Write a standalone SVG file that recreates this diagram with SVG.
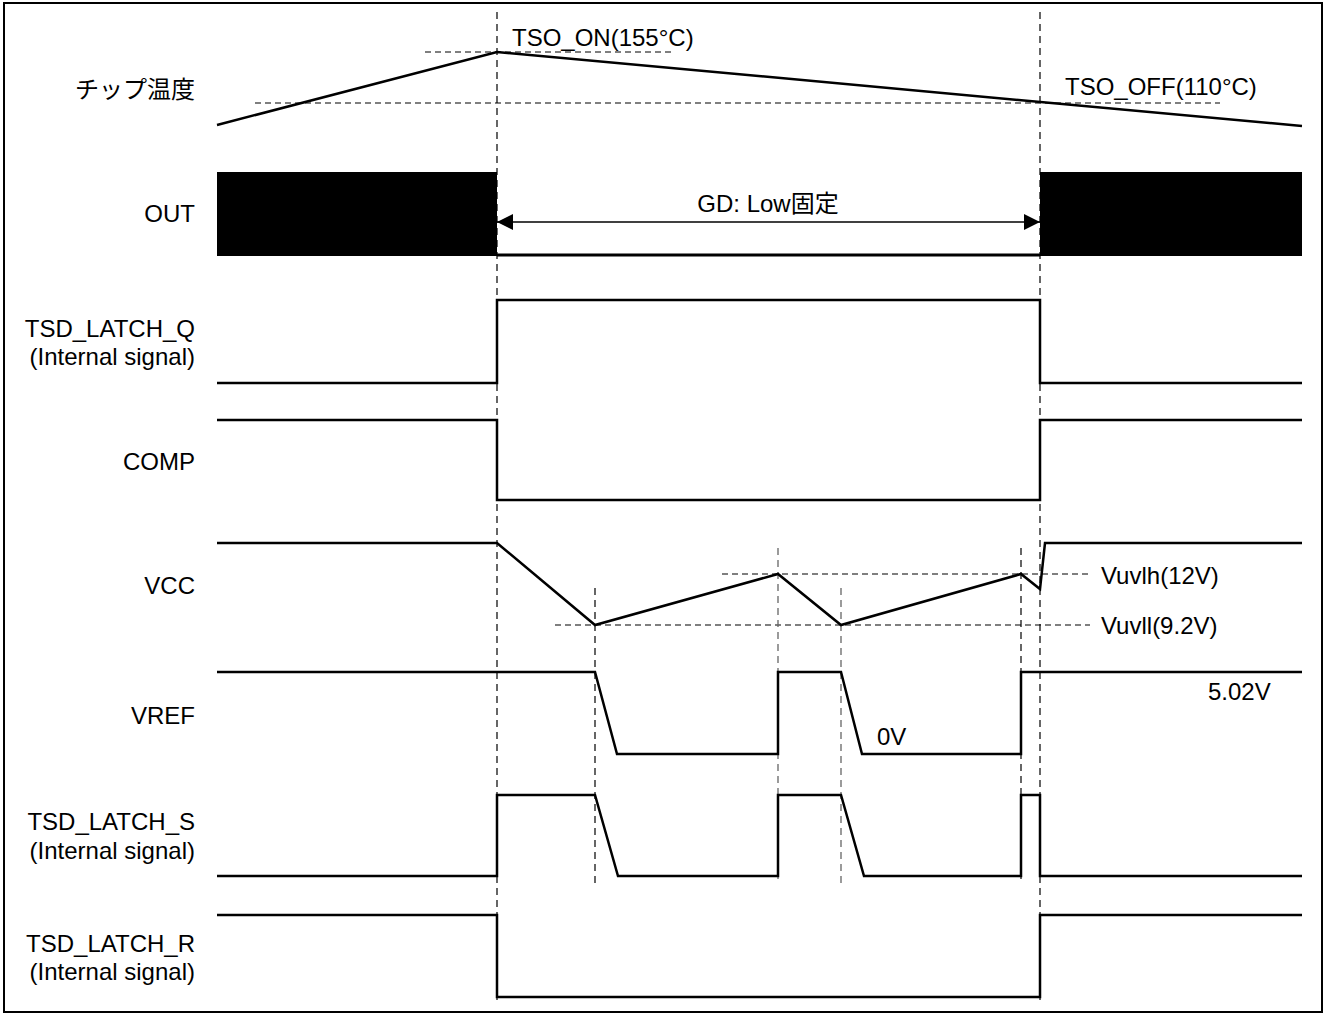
<svg xmlns="http://www.w3.org/2000/svg" width="1325" height="1014" viewBox="0 0 1325 1014">
<style>
text{font-family:"Liberation Sans",Arial,"Noto Sans CJK JP",sans-serif;font-size:24px;fill:#000}
.lbl{text-anchor:end}
.w{fill:none;stroke:#000;stroke-width:2.5;stroke-linejoin:miter}
.d{fill:none;stroke:#000;stroke-width:1.1;stroke-dasharray:6 4}
.dv{fill:none;stroke:#000;stroke-width:1.2;stroke-dasharray:7 5}
.dg{fill:none;stroke:#666;stroke-width:1.3;stroke-dasharray:7 5}
</style>
<defs>
<marker id="ah" viewBox="0 0 16 16" refX="16" refY="8" markerWidth="16" markerHeight="16" markerUnits="userSpaceOnUse" orient="auto-start-reverse">
<path d="M0,0 L16,8 L0,16 Z" fill="#000"/>
</marker>
</defs>
<rect x="0" y="0" width="1325" height="1014" fill="#fff"/>
<rect x="4" y="3" width="1318" height="1009" fill="none" stroke="#000" stroke-width="2"/>

<g id="guides">
<line class="dv" x1="497" y1="12" x2="497" y2="1000"/>
<line class="dv" x1="1040" y1="12" x2="1040" y2="1000"/>
<line class="d" x1="425" y1="52" x2="675" y2="52"/>
<line class="d" x1="255" y1="103" x2="1220" y2="103"/>
<line class="d" x1="722" y1="574" x2="1090" y2="574"/>
<line class="d" x1="555" y1="625" x2="1090" y2="625"/>
<line class="dv" x1="595" y1="588" x2="595" y2="885"/>
<line class="dg" x1="778" y1="548" x2="778" y2="880"/>
<line class="dg" x1="841" y1="588" x2="841" y2="885"/>
<line class="dv" x1="1021" y1="548" x2="1021" y2="882"/>
</g>

<g id="chip-temp">
<text class="lbl" x="195" y="98">チップ温度</text>
<polyline class="w" points="217,125 497,52 1302,126"/>
<text x="512" y="46">TSO_ON(155°C)</text>
<text x="1065" y="95">TSO_OFF(110°C)</text>
</g>

<g id="out">
<text class="lbl" x="195" y="222">OUT</text>
<rect x="217" y="172" width="280" height="84" fill="#000"/>
<rect x="1040" y="172" width="262" height="84" fill="#000"/>
<line x1="497" y1="255" x2="1040" y2="255" stroke="#000" stroke-width="3"/>
<text x="768" y="212" text-anchor="middle">GD: Low固定</text>
</g>

<g id="tsd-latch-q">
<text class="lbl" x="195" y="337">TSD_LATCH_Q</text>
<text class="lbl" x="195" y="365">(Internal signal)</text>
<polyline class="w" points="217,383 497,383 497,300 1040,300 1040,383 1302,383"/>
</g>

<g id="comp">
<text class="lbl" x="195" y="470">COMP</text>
<polyline class="w" points="217,420 497,420 497,500 1040,500 1040,420 1302,420"/>
</g>

<g id="vcc">
<text class="lbl" x="195" y="594">VCC</text>
<polyline class="w" points="217,543 497,543 595,625 778,574 841,625 1021,574 1040,589 1045,543 1302,543"/>
<text x="1101" y="584">Vuvlh(12V)</text>
<text x="1101" y="634">Vuvll(9.2V)</text>
</g>

<g id="vref">
<text class="lbl" x="195" y="724">VREF</text>
<polyline class="w" points="217,672 595,672 617,754 778,754 778,672 841,672 862,754 1021,754 1021,672 1302,672"/>
<text x="877" y="745">0V</text>
<text x="1208" y="700">5.02V</text>
</g>

<g id="tsd-latch-s">
<text class="lbl" x="195" y="830">TSD_LATCH_S</text>
<text class="lbl" x="195" y="859">(Internal signal)</text>
<polyline class="w" points="217,876 497,876 497,795 595,795 618,876 778,876 778,795 841,795 864,876 1021,876 1021,795 1040,795 1040,876 1302,876"/>
</g>

<g id="tsd-latch-r">
<text class="lbl" x="195" y="952">TSD_LATCH_R</text>
<text class="lbl" x="195" y="980">(Internal signal)</text>
<polyline class="w" points="217,915 497,915 497,997 1040,997 1040,915 1302,915"/>
</g>

<g id="connectors">
<line x1="497" y1="222" x2="1040" y2="222" stroke="#000" stroke-width="1.5" marker-start="url(#ah)" marker-end="url(#ah)"/>
</g>
</svg>
